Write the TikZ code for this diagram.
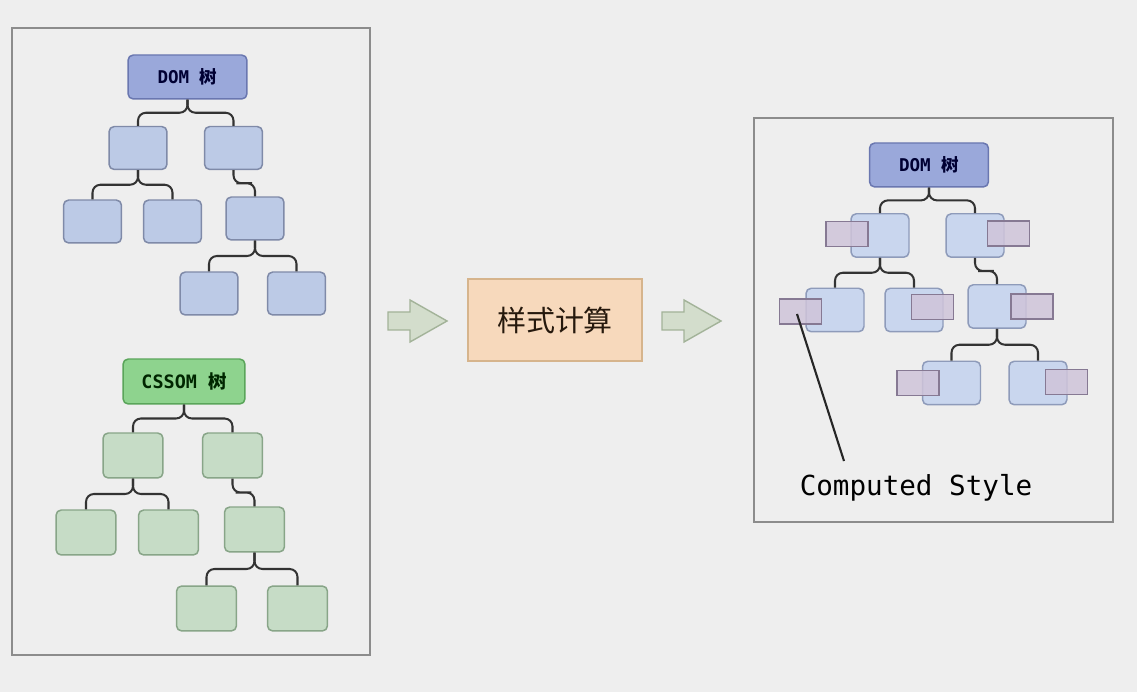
\documentclass[tikz,border=0pt]{standalone}
\usepackage{fontspec}
\setmonofont{DejaVu Sans Mono}
\newfontfamily\cjk{Noto Sans CJK SC}
\usetikzlibrary{calc}

\definecolor{bgcol}{HTML}{EEEEEE}
\definecolor{framecol}{HTML}{8C8C8C}
\definecolor{rootblue}{HTML}{9AA8DA}
\definecolor{rootblueedge}{HTML}{6A77B0}
\definecolor{boxblue}{HTML}{BCCAE6}
\definecolor{boxblueedge}{HTML}{7F8AA8}
\definecolor{paleblue}{HTML}{C9D6EE}
\definecolor{paleblueedge}{HTML}{8E9BBA}
\definecolor{rootgreen}{HTML}{8ED38E}
\definecolor{rootgreenedge}{HTML}{5AA55A}
\definecolor{boxgreen}{HTML}{C6DCC6}
\definecolor{boxgreenedge}{HTML}{88A588}
\definecolor{stylepurple}{HTML}{CFC4D9}
\definecolor{stylepurpleedge}{HTML}{867993}
\definecolor{calcfill}{HTML}{F7D9BC}
\definecolor{calcedge}{HTML}{D6B48C}
\definecolor{arrowfill}{HTML}{D3DDCC}
\definecolor{arrowedge}{HTML}{A3B399}

\tikzset{
    frame/.style={draw=framecol, line width=0.9pt},
    treebox/.style={rounded corners=3pt, line width=0.85pt, inner sep=0pt},
    domroot/.style={treebox, draw=rootblueedge, fill=rootblue, minimum width=2.38cm,
        minimum height=0.88cm, text=black!80!blue, font=\ttfamily\bfseries\fontsize{10}{12}\selectfont},
    domnode/.style={treebox, draw=boxblueedge, fill=boxblue, minimum width=1.16cm, minimum height=0.86cm},
    palenode/.style={treebox, draw=paleblueedge, fill=paleblue, minimum width=1.16cm, minimum height=0.87cm},
    cssroot/.style={treebox, draw=rootgreenedge, fill=rootgreen, minimum width=2.44cm,
        minimum height=0.9cm, text=black!85!green, font=\ttfamily\bfseries\fontsize{10.5}{12}\selectfont},
    cssnode/.style={treebox, draw=boxgreenedge, fill=boxgreen, minimum width=1.2cm, minimum height=0.9cm},
    cstyle/.style={draw=stylepurpleedge, fill=stylepurple, fill opacity=0.85, line width=0.85pt,
        minimum width=0.84cm, minimum height=0.5cm, inner sep=0pt},
    link/.style={draw=black!80, line width=1.15pt, rounded corners=4.5pt},
    fatarrow/.style={draw=arrowedge, fill=arrowfill, line width=0.8pt}
}

% parent -> child, brace-like elbow
\newcommand\branch[2]{\draw[link] (#1.south) |- ($(#1.south)!.5!(#2.north)$) -| (#2.north);}
% fat arrow, tail at x=#1
\newcommand\fatarrow[1]{\draw[fatarrow, shift={(#1,321)}]
    (0,-9) -- (22,-9) -- (22,-21) -- (59,0) -- (22,21) -- (22,9) -- (0,9) -- cycle;}

\begin{document}
\begin{tikzpicture}[x=0.02cm, y=-0.02cm]
    \fill[bgcol] (0,0) rectangle (1137,692);
    \useasboundingbox (0,0) rectangle (1137,692);

    % left: DOM tree + CSSOM tree
    \draw[frame] (12,28) rectangle (370,655);

    \node[domroot] (d0) at (187.5,77) {DOM {\cjk 树}};
    \node[domnode] (d1) at (138,148) {};
    \node[domnode] (d2) at (233.5,148) {};
    \node[domnode] (d3) at (92.5,221.5) {};
    \node[domnode] (d4) at (172.5,221.5) {};
    \node[domnode] (d5) at (255,218.5) {};
    \node[domnode] (d6) at (209,293.5) {};
    \node[domnode] (d7) at (296.5,293.5) {};
    \branch{d0}{d1} \branch{d0}{d2}
    \branch{d1}{d3} \branch{d1}{d4}
    \branch{d2}{d5}
    \branch{d5}{d6} \branch{d5}{d7}

    \node[cssroot] (c0) at (184,381.5) {CSSOM {\cjk 树}};
    \node[cssnode] (c1) at (133,455.5) {};
    \node[cssnode] (c2) at (232.5,455.5) {};
    \node[cssnode] (c3) at (86,532.5) {};
    \node[cssnode] (c4) at (168.5,532.5) {};
    \node[cssnode] (c5) at (254.5,529.5) {};
    \node[cssnode] (c6) at (206.5,608.5) {};
    \node[cssnode] (c7) at (297.5,608.5) {};
    \branch{c0}{c1} \branch{c0}{c2}
    \branch{c1}{c3} \branch{c1}{c4}
    \branch{c2}{c5}
    \branch{c5}{c6} \branch{c5}{c7}

    % middle
    \fatarrow{388}
    \node[draw=calcedge, fill=calcfill, line width=0.8pt, minimum width=3.48cm, minimum height=1.64cm,
        font=\cjk\fontsize{16.5}{18}\selectfont, text=black!80!brown] (calc) at (555,320) {样式计算};
    \fatarrow{662}

    % right: DOM tree with computed styles
    \draw[frame] (754,118) rectangle (1113,522);

    \node[domroot] (r0) at (929,165) {DOM {\cjk 树}};
    \node[palenode] (r1) at (880,235.5) {};
    \node[palenode] (r2) at (975,235.5) {};
    \node[palenode] (r3) at (835,310) {};
    \node[palenode] (r4) at (914,310) {};
    \node[palenode] (r5) at (997,306.5) {};
    \node[palenode] (r6) at (951.5,383) {};
    \node[palenode] (r7) at (1038,383) {};
    \branch{r0}{r1} \branch{r0}{r2}
    \branch{r1}{r3} \branch{r1}{r4}
    \branch{r2}{r5}
    \branch{r5}{r6} \branch{r5}{r7}

    \node[cstyle] (p1) at (847,234) {};
    \node[cstyle] (p2) at (1008.5,233.5) {};
    \node[cstyle] (p3) at (800.5,311.5) {};
    \node[cstyle] (p4) at (932.5,307) {};
    \node[cstyle] (p5) at (1032,306.5) {};
    \node[cstyle] (p6) at (918,383) {};
    \node[cstyle] (p7) at (1066.5,382) {};

    \node[font=\ttfamily\fontsize{15.7}{18}\selectfont] (cs) at (916,488) {Computed Style};
    \coordinate (cstip) at (844,461);
    \draw[line width=1.2pt, black!85] ($(p3.center)+(-3.5,2.5)$) -- (cstip);
\end{tikzpicture}
\end{document}
